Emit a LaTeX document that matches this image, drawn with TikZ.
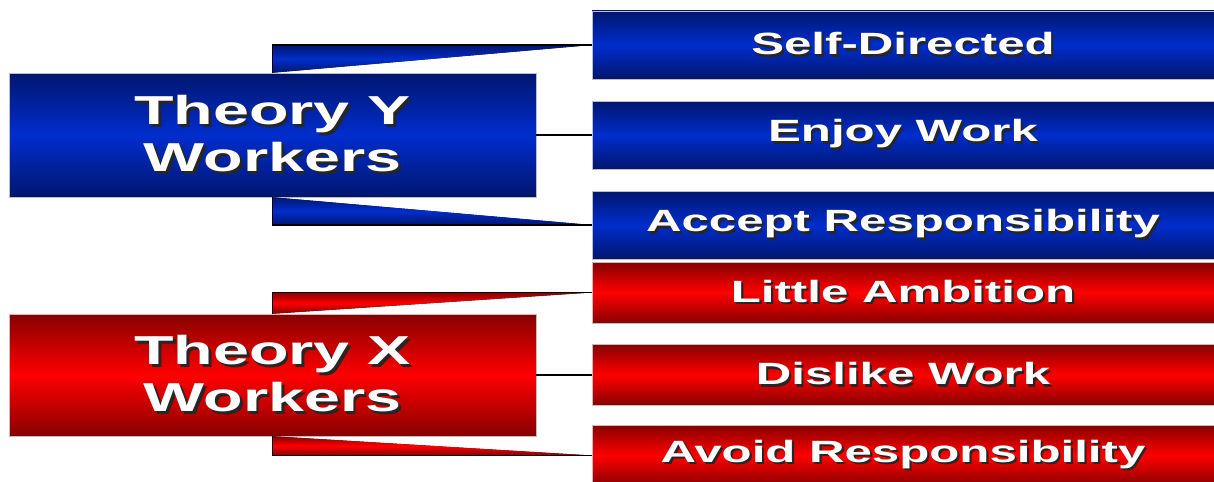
\documentclass[tikz,border=0pt]{standalone}
\usepackage{fontspec}
\newfontfamily\labelfont[FakeStretch=1.6]{Liberation Sans}
\usepackage{tikz}
\definecolor{ydark}{RGB}{0,22,110}
\definecolor{ylight}{RGB}{0,45,205}
\definecolor{xdark}{RGB}{135,0,0}
\definecolor{xlight}{RGB}{255,0,0}
\newcommand{\shadowtext}[1]{\makebox[0pt][l]{\hspace{0.07em}\raisebox{-0.07em}{\textcolor{black!85}{#1}}}#1}

\begin{document}
\begin{tikzpicture}[x=0.02cm, y=-0.02cm,
    label box/.style={draw=gray!50, line width=0.3pt, text=white, inner sep=0pt,
        font=\labelfont\bfseries\fontsize{17.5}{20}\selectfont,
        minimum width=12.44cm},
    theory box/.style={label box, minimum width=10.54cm, align=center,
        font=\labelfont\bfseries\fontsize{23}{27}\selectfont},
    yshade/.style={top color=ydark, bottom color=ydark, middle color=ylight},
    xshade/.style={top color=xdark, bottom color=xdark, middle color=xlight},
    link/.style={line width=1.1pt, black}]
    % Fixed Bounding Box for alignment
    \useasboundingbox (0,0) rectangle (1214,482);

    % Theory Y
    \node[theory box, yshade, minimum height=2.48cm] (theoryY) at (272.5,135)
        {\shadowtext{Theory Y}\\\shadowtext{Workers}};
    \node[label box, yshade, minimum height=1.36cm] (selfdir) at (903,45) {\shadowtext{Self-Directed}};
    \node[label box, yshade, minimum height=1.36cm] (enjoy) at (903,135) {\shadowtext{Enjoy Work}};
    \node[label box, yshade, minimum height=1.36cm] (accept) at (903,225) {\shadowtext{Accept Responsibility}};

    % Theory X
    \node[theory box, xshade, minimum height=2.44cm] (theoryX) at (272.5,375)
        {\shadowtext{Theory X}\\\shadowtext{Workers}};
    \node[label box, xshade, minimum height=1.22cm] (ambition) at (903,292.5) {\shadowtext{Little Ambition}};
    \node[label box, xshade, minimum height=1.22cm] (dislike) at (903,375) {\shadowtext{Dislike Work}};
    \node[label box, xshade, minimum height=1.22cm] (avoid) at (903,455.5) {\shadowtext{Avoid Responsibility}};

    % Wedges
    \fill[yshade] (theoryY.north) -- (theoryY.north |- selfdir.west) -- (selfdir.west) -- cycle;
    \fill[yshade] (theoryY.south) -- (theoryY.south |- accept.west) -- (accept.west) -- cycle;
    \fill[xshade] (theoryX.north) -- (theoryX.north |- ambition.west) -- (ambition.west) -- cycle;
    \fill[xshade] (theoryX.south) -- (theoryX.south |- avoid.west) -- (avoid.west) -- cycle;

    % Connectors
    \draw[link] (theoryY.north) |- (selfdir.west);
    \draw[link] (theoryY.east) -- (enjoy.west);
    \draw[link] (theoryY.south) |- (accept.west);
    \draw[link] (theoryX.north) |- (ambition.west);
    \draw[link] (theoryX.east) -- (dislike.west);
    \draw[link] (theoryX.south) |- (avoid.west);
\end{tikzpicture}
\end{document}
